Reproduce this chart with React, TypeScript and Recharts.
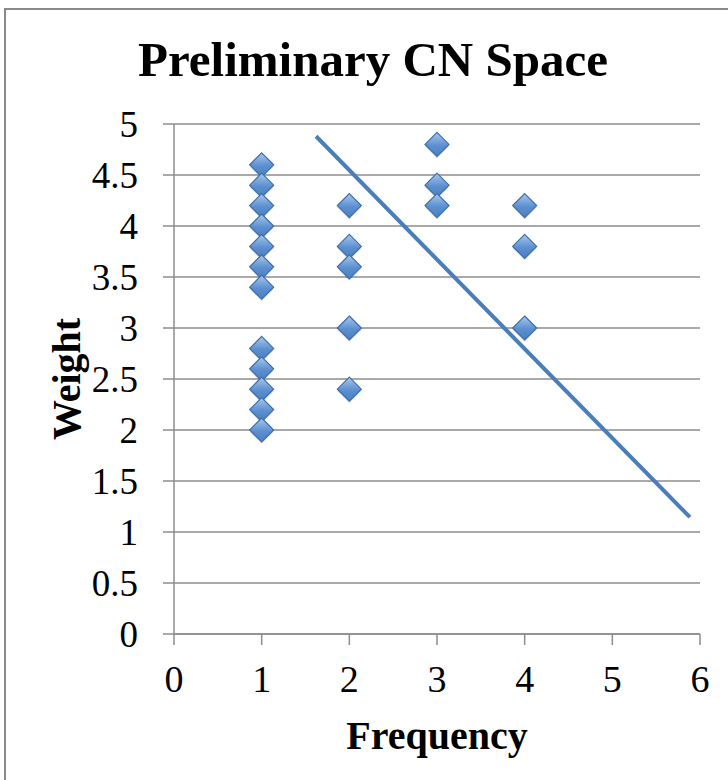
import React from 'react';
import { ScatterChart, Scatter, XAxis, YAxis, CartesianGrid, ReferenceLine } from 'recharts';

// values
const frequency = [1, 1, 1, 1, 1, 1, 1, 1, 1, 1, 1, 1, 2, 2, 2, 2, 2, 3, 3, 3, 4, 4, 4];
const weight = [4.6, 4.4, 4.2, 4.0, 3.8, 3.6, 3.4, 2.8, 2.6, 2.4, 2.2, 2.0, 4.2, 3.8, 3.6, 3.0, 2.4, 4.8, 4.4, 4.2, 4.2, 3.8, 3.0];
const lineFrequency = [1.62, 5.885];
const lineWeight = [4.88, 1.145];
const xTicks = [0, 1, 2, 3, 4, 5, 6];
const yTicks = [0, 0.5, 1, 1.5, 2, 2.5, 3, 3.5, 4, 4.5, 5];

const points = frequency.map((f, i) => ({ frequency: f, weight: weight[i] }));

const FONT = '"Liberation Serif", "DejaVu Serif", serif';
const GRID = '#8c8c8c';

// Excel-ish bevelled diamond marker
const Diamond = (props: any) => {
  const { cx, cy } = props;
  if (cx == null || cy == null) return null;
  const r = 12;
  return (
    <g>
      <polygon
        points={`${cx},${cy - r + 2} ${cx + r},${cy + 2} ${cx},${cy + r + 2} ${cx - r},${cy + 2}`}
        fill="#000"
        opacity={0.12}
      />
      <polygon
        points={`${cx},${cy - r} ${cx + r},${cy} ${cx},${cy + r} ${cx - r},${cy}`}
        fill="url(#diamondFill)"
        stroke="#3d6ea8"
        strokeWidth={1.2}
      />
    </g>
  );
};

export default function App() {
  return (
    <div style={{ position: 'absolute', left: 0, top: 0, width: 728, height: 780, overflow: 'hidden', background: '#fff', fontFamily: FONT }}>
      {/* chart frame, cut off at right and bottom */}
      <div style={{ position: 'absolute', left: 4, top: 8, width: 760, height: 820, border: '2px solid #8a8a8a' }} />

      <div
        style={{
          position: 'absolute', left: 373, top: 59, transform: 'translate(-50%, -50%)',
          fontSize: 49, fontWeight: 'bold', whiteSpace: 'nowrap', color: '#000',
        }}
      >
        Preliminary CN Space
      </div>

      <div
        style={{
          position: 'absolute', left: 66, top: 379, transform: 'translate(-50%, -50%) rotate(-90deg)',
          fontSize: 40, fontWeight: 'bold', whiteSpace: 'nowrap', color: '#000',
        }}
      >
        Weight
      </div>

      <div
        style={{
          position: 'absolute', left: 437, top: 735, transform: 'translate(-50%, -50%)',
          fontSize: 40, fontWeight: 'bold', whiteSpace: 'nowrap', color: '#000',
        }}
      >
        Frequency
      </div>

      <div style={{ position: 'absolute', left: 0, top: 0 }}>
        <ScatterChart width={728} height={780} margin={{ top: 124, right: 28, bottom: 86, left: 74 }}>
          <defs>
            <linearGradient id="diamondFill" x1="0" y1="0" x2="0" y2="1">
              <stop offset="0%" stopColor="#a9c8ec" />
              <stop offset="55%" stopColor="#5b8fd0" />
              <stop offset="100%" stopColor="#4a7fc0" />
            </linearGradient>
          </defs>
          <CartesianGrid vertical={false} stroke={GRID} strokeWidth={1.5} />
          <XAxis
            type="number"
            dataKey="frequency"
            domain={[0, 6]}
            ticks={xTicks}
            interval={0}
            axisLine={{ stroke: GRID, strokeWidth: 1.5 }}
            tickLine={{ stroke: GRID, strokeWidth: 1.5 }}
            tickSize={11}
            tickMargin={20}
            tick={{ fill: '#000', fontSize: 38, fontFamily: FONT }}
            height={60}
          />
          <YAxis
            type="number"
            dataKey="weight"
            domain={[0, 5]}
            ticks={yTicks}
            interval={0}
            axisLine={{ stroke: GRID, strokeWidth: 1.5 }}
            tickLine={{ stroke: GRID, strokeWidth: 1.5 }}
            tickSize={11}
            tickMargin={25}
            tick={{ fill: '#000', fontSize: 37, fontFamily: FONT }}
            width={100}
          />
          <ReferenceLine
            segment={[
              { x: lineFrequency[0], y: lineWeight[0] },
              { x: lineFrequency[1], y: lineWeight[1] },
            ]}
            stroke="#4a7ebb"
            strokeWidth={4}
            ifOverflow="visible"
          />
          <Scatter data={points} shape={Diamond} isAnimationActive={false} />
        </ScatterChart>
      </div>
    </div>
  );
}
